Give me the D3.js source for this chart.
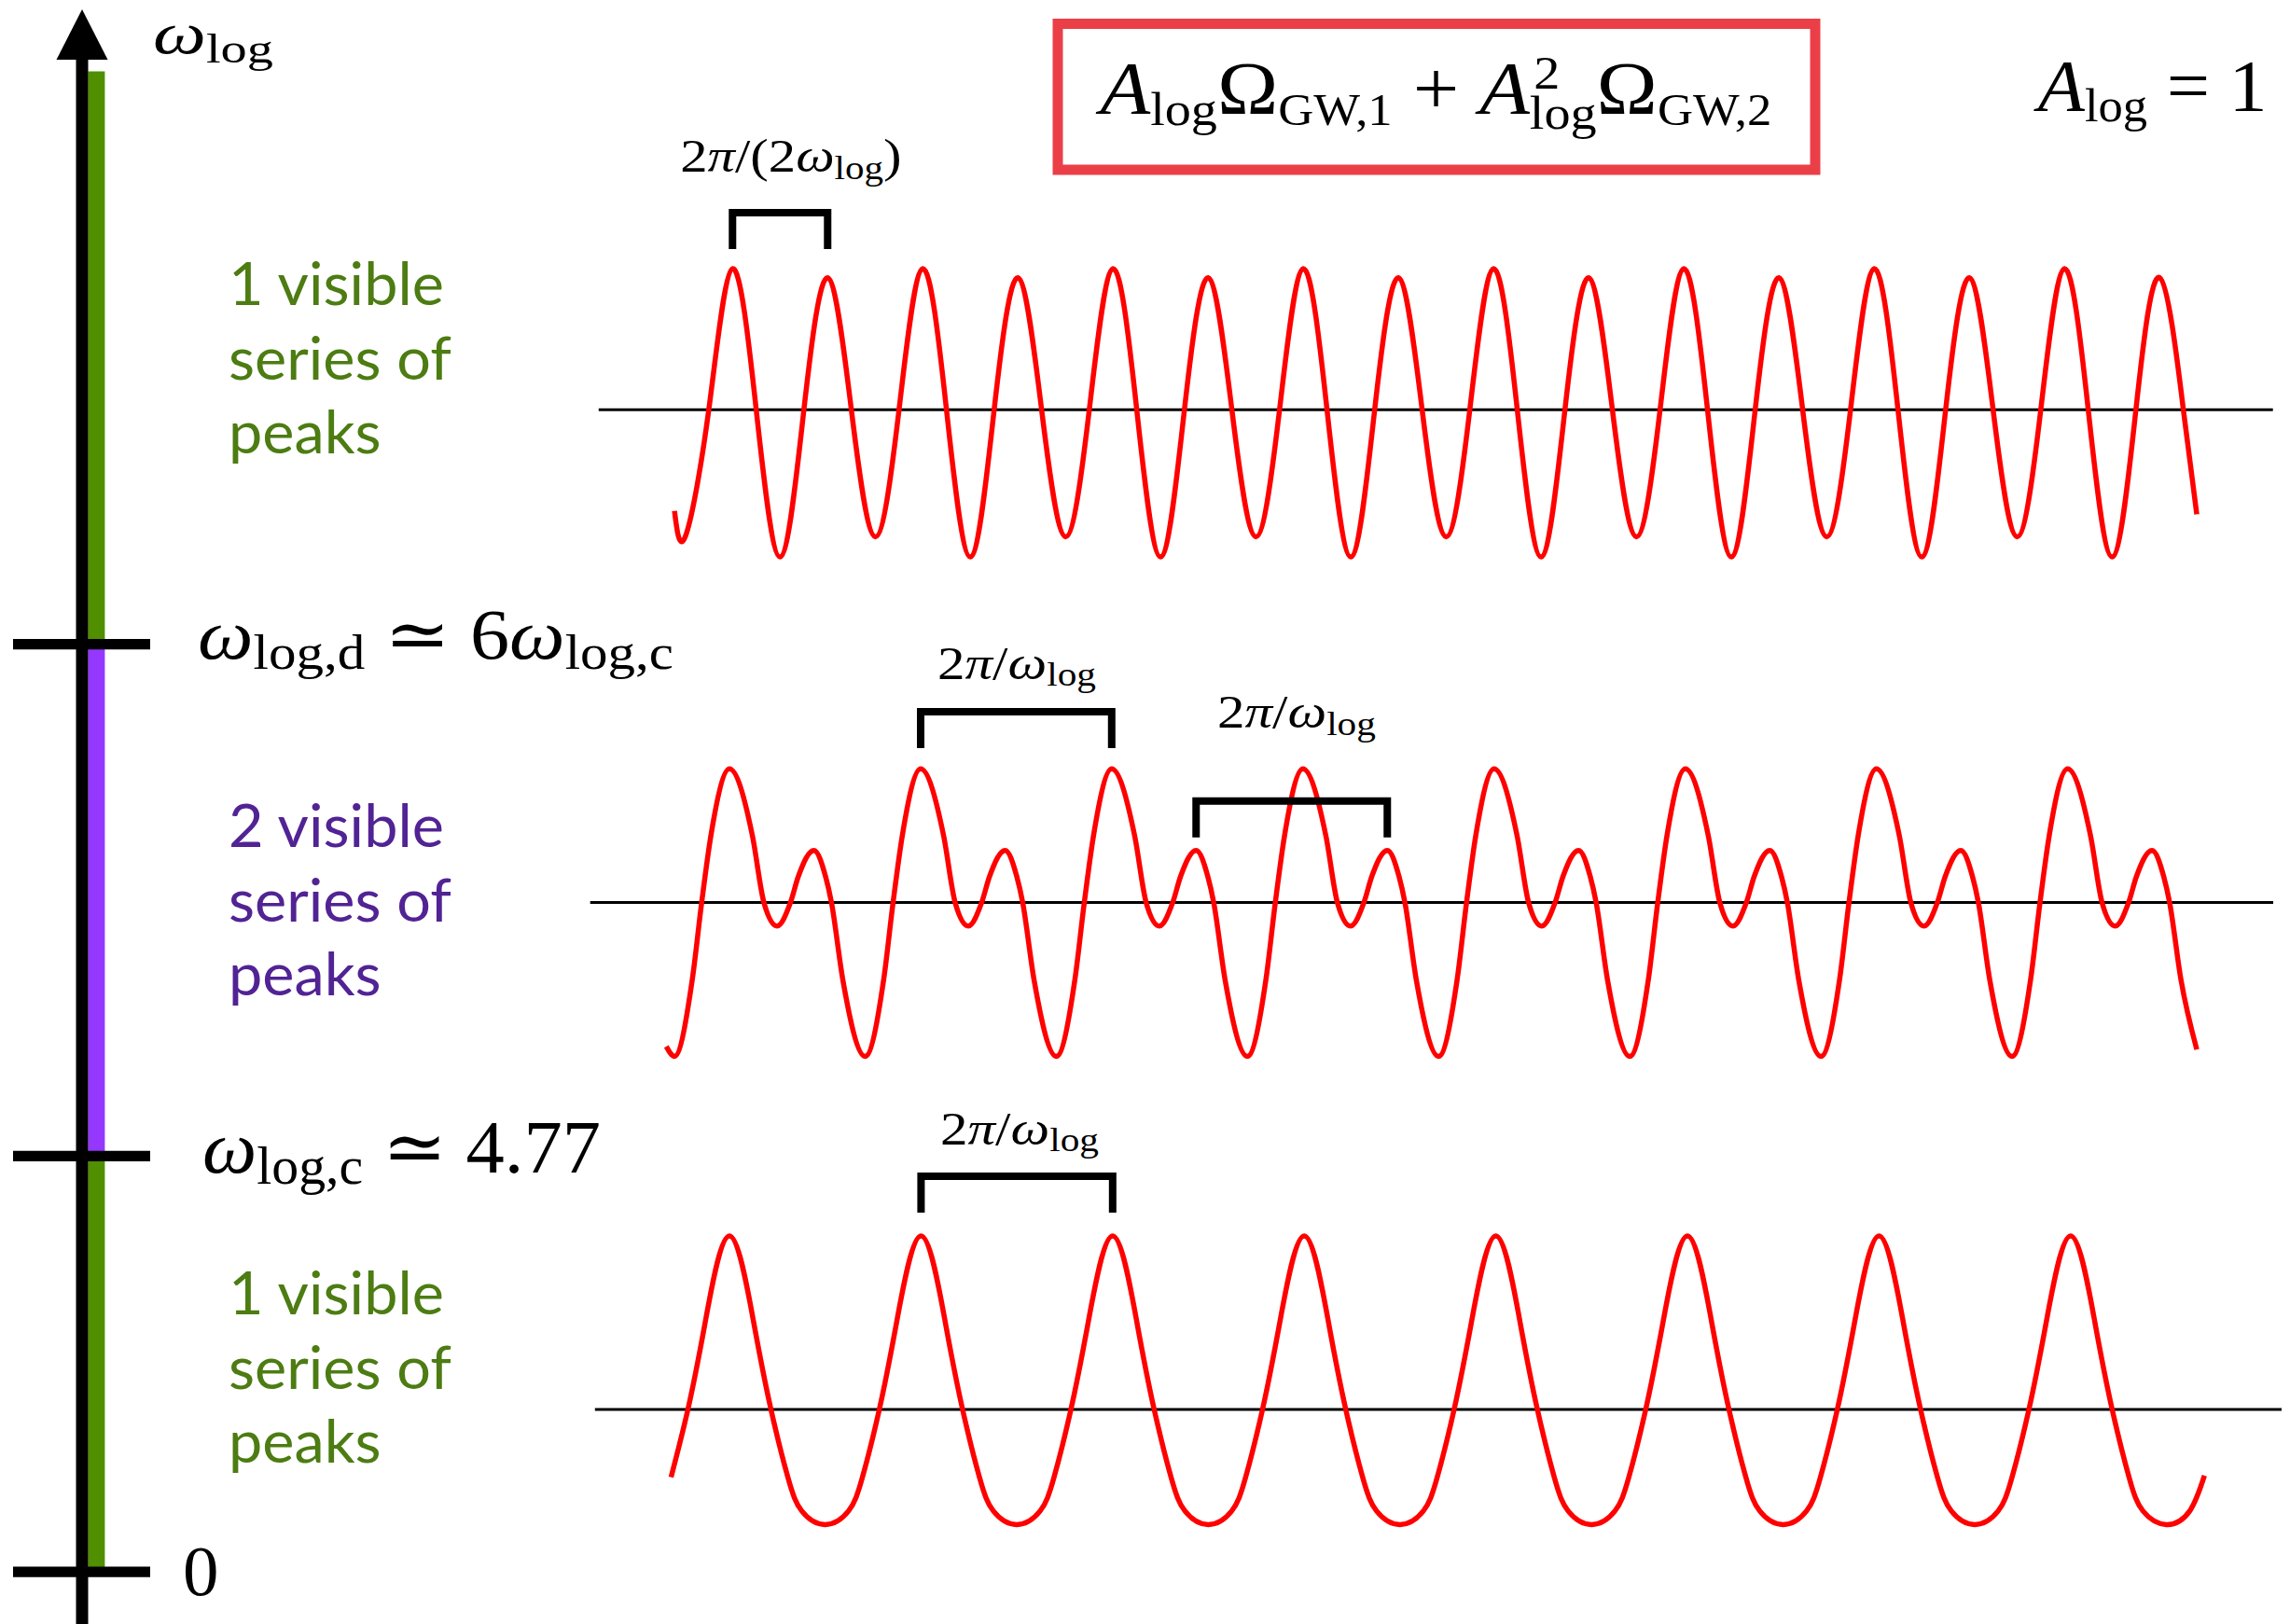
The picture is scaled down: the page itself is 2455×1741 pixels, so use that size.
<!DOCTYPE html>
<html>
<head>
<meta charset="utf-8">
<script src="https://cdn.jsdelivr.net/npm/d3@7"></script>
<style>
  body { margin: 0; background: #fff; }
  text { white-space: pre; }
</style>
</head>
<body>
<div id="svgcontainer"></div>
<script>
// ---- data ----
// x in units of one period 2pi/omega_log (first big peak = 0), y in amplitude units
var topWave = [
  [-0.287,-0.657],[-0.231,-0.825],
  [-0.108,0],[0.016,0.917],[0.140,0],[0.265,-0.956],
  [0.389,0],[0.513,0.858],[0.637,0],[0.762,-0.825],
  [0.886,0],[1.010,0.917],[1.134,0],[1.259,-0.956],
  [1.383,0],[1.507,0.858],[1.631,0],[1.756,-0.825],
  [1.880,0],[2.004,0.917],[2.128,0],[2.253,-0.956],
  [2.377,0],[2.501,0.858],[2.625,0],[2.750,-0.825],
  [2.874,0],[2.998,0.917],[3.122,0],[3.247,-0.956],
  [3.371,0],[3.495,0.858],[3.619,0],[3.744,-0.825],
  [3.868,0],[3.992,0.917],[4.116,0],[4.241,-0.956],
  [4.365,0],[4.489,0.858],[4.613,0],[4.738,-0.825],
  [4.862,0],[4.986,0.917],[5.110,0],[5.235,-0.956],
  [5.359,0],[5.483,0.858],[5.607,0],[5.732,-0.825],
  [5.857,0],[5.981,0.917],[6.105,0],[6.230,-0.956],
  [6.354,0],[6.478,0.858],[6.602,0],[6.727,-0.825],
  [6.851,0],[6.975,0.917],[7.099,0],[7.224,-0.956],
  [7.348,0],[7.472,0.858],[7.596,0],[7.666,-0.679]
];

var midWave = [
  [-0.330,-0.936],[-0.287,-1.0],[-0.194,-0.5],[-0.145,0],[-0.097,0.433],
  [0,0.867],[0.120,0.433],[0.180,0],[0.249,-0.153],[0.319,0],[0.360,0.169],[0.441,0.338],[0.502,0.169],[0.533,0],[0.592,-0.5],[0.709,-1.0],[0.806,-0.5],[0.855,0],[0.903,0.433],
  [0.999,0.867],[1.119,0.433],[1.179,0],[1.248,-0.153],[1.318,0],[1.359,0.169],[1.440,0.338],[1.501,0.169],[1.532,0],[1.591,-0.5],[1.708,-1.0],[1.805,-0.5],[1.854,0],[1.902,0.433],
  [1.997,0.867],[2.117,0.433],[2.177,0],[2.246,-0.153],[2.316,0],[2.357,0.169],[2.438,0.338],[2.499,0.169],[2.530,0],[2.589,-0.5],[2.706,-1.0],[2.803,-0.5],[2.852,0],[2.900,0.433],
  [2.996,0.867],[3.116,0.433],[3.176,0],[3.245,-0.153],[3.315,0],[3.356,0.169],[3.437,0.338],[3.498,0.169],[3.529,0],[3.588,-0.5],[3.705,-1.0],[3.802,-0.5],[3.851,0],[3.899,0.433],
  [3.995,0.867],[4.115,0.433],[4.175,0],[4.244,-0.153],[4.314,0],[4.355,0.169],[4.436,0.338],[4.497,0.169],[4.528,0],[4.587,-0.5],[4.704,-1.0],[4.801,-0.5],[4.850,0],[4.898,0.433],
  [4.994,0.867],[5.114,0.433],[5.174,0],[5.243,-0.153],[5.313,0],[5.354,0.169],[5.435,0.338],[5.496,0.169],[5.527,0],[5.586,-0.5],[5.703,-1.0],[5.800,-0.5],[5.849,0],[5.897,0.433],
  [5.992,0.867],[6.112,0.433],[6.172,0],[6.241,-0.153],[6.311,0],[6.352,0.169],[6.433,0.338],[6.494,0.169],[6.525,0],[6.584,-0.5],[6.701,-1.0],[6.798,-0.5],[6.847,0],[6.895,0.433],
  [6.991,0.867],[7.111,0.433],[7.171,0],[7.240,-0.153],[7.310,0],[7.351,0.169],[7.432,0.338],[7.493,0.169],[7.524,0],[7.583,-0.5],[7.666,-0.956]
];

var lowWave = [
  [-0.305,-0.44],[-0.217,0],[-0.127,0.564],
  [0,1.127],[0.127,0.564],[0.217,0],[0.305,-0.44],[0.378,-0.66],[0.5,-0.748],[0.622,-0.66],[0.695,-0.44],[0.783,0],[0.873,0.564],
  [1.001,1.127],[1.128,0.564],[1.218,0],[1.306,-0.44],[1.379,-0.66],[1.501,-0.748],[1.623,-0.66],[1.696,-0.44],[1.784,0],[1.874,0.564],
  [2.002,1.127],[2.129,0.564],[2.219,0],[2.307,-0.44],[2.380,-0.66],[2.502,-0.748],[2.624,-0.66],[2.697,-0.44],[2.785,0],[2.875,0.564],
  [3.003,1.127],[3.130,0.564],[3.220,0],[3.308,-0.44],[3.381,-0.66],[3.503,-0.748],[3.625,-0.66],[3.698,-0.44],[3.786,0],[3.876,0.564],
  [4.004,1.127],[4.131,0.564],[4.221,0],[4.309,-0.44],[4.382,-0.66],[4.504,-0.748],[4.626,-0.66],[4.699,-0.44],[4.787,0],[4.877,0.564],
  [5.005,1.127],[5.132,0.564],[5.222,0],[5.310,-0.44],[5.383,-0.66],[5.505,-0.748],[5.627,-0.66],[5.700,-0.44],[5.788,0],[5.878,0.564],
  [6.006,1.127],[6.133,0.564],[6.223,0],[6.311,-0.44],[6.384,-0.66],[6.506,-0.748],[6.628,-0.66],[6.701,-0.44],[6.789,0],[6.879,0.564],
  [7.007,1.127],[7.134,0.564],[7.224,0],[7.312,-0.44],[7.385,-0.66],[7.507,-0.748],[7.629,-0.66],[7.706,-0.43]
];

// omega_log axis: boundaries of the regimes
var regimeEdges = [0, 4.77, 28.62];
var regimeNames = [
  ["1 visible", "series of", "peaks"],
  ["2 visible", "series of", "peaks"],
  ["1 visible", "series of", "peaks"]
];

// brackets: which panel, from peak to peak (x units)
var brackets = [
  { panel: 0, x0: 0.016, x1: 0.513 },
  { panel: 1, x0: 0.999, x1: 1.997 },
  { panel: 1, x0: 2.438, x1: 3.437 },
  { panel: 2, x0: 1.001, x1: 2.002 }
];

// ---- layout ----
var width = 2455, height = 1741;
var green = "#4f8f00", purple = "#9437ff";
var greenText = "#4c7c12", purpleText = "#512394";
var red = "#ff0000", boxRed = "#eb3f48";

var panels = [
  { wave: topWave, axisY: 439.3, x0: 641.8, x1: 2436.7, curve: d3.curveNatural },
  { wave: midWave, axisY: 967.4, x0: 632.7, x1: 2437, curve: d3.curveMonotoneX },
  { wave: lowWave, axisY: 1511, x0: 637.8, x1: 2446, curve: d3.curveNatural }
];
var ampPx = 165;

var svg = d3.select("#svgcontainer")
    .append("svg")
    .attr("width", width)
    .attr("height", height);

svg.append("rect").attr("width", width).attr("height", height).attr("fill", "#fff");

var x = d3.scaleLinear().domain([0, 7]).range([782, 2218.4]);

// math text: parts = {t, it, sub (shift in em), fs (size factor), sup}
function mathText(parent, px, py, size, parts, fitWidth) {
  var g = parent.append("g");
  var t = g.append("text")
      .attr("x", px).attr("y", py)
      .style("font-family", "'Liberation Serif', 'DejaVu Serif', serif")
      .style("font-size", size + "px")
      .attr("fill", "#000");
  var shift = 0, n = 0, marks = [];
  parts.forEach(function(p) {
    var off = p.sub ? p.sub * size : 0;
    var fs = p.sub ? (p.fs || 0.7) * size : size;
    var s = t.append("tspan").text(p.t)
        .attr("dy", off - shift)
        .style("font-size", fs + "px");
    shift = off;
    if (p.it) s.style("font-style", "italic");
    if (p.sup) marks.push({ i: n, t: p.sup, fs: fs });
    n += p.t.length;
  });
  marks.forEach(function(m) {
    var pos = t.node().getStartPositionOfChar(m.i);
    g.append("text")
      .attr("x", pos.x + 4).attr("y", py - 0.33 * size)
      .style("font-family", "'Liberation Serif', serif")
      .style("font-size", m.fs + "px")
      .text(m.t);
  });
  if (fitWidth) {
    var w = t.node().getComputedTextLength();
    var k = fitWidth / w;
    g.attr("transform", "translate(" + px + ",0) scale(" + k + ",1) translate(" + (-px) + ",0)");
  }
  return g;
}

// ---- left omega axis ----
var wy = d3.scaleLinear().domain(regimeEdges).range([1685.2, 1239.3, 690.6]);
var axisTopY = 76.5;
var bands = [
  { lo: wy(regimeEdges[0]), hi: wy(regimeEdges[1]), c: green },
  { lo: wy(regimeEdges[1]), hi: wy(regimeEdges[2]), c: purple },
  { lo: wy(regimeEdges[2]), hi: axisTopY, c: green }
];
svg.selectAll("rect.band").data(bands).enter().append("rect")
  .attr("class", "band")
  .attr("x", 94.4).attr("width", 18)
  .attr("y", function(d) { return d.hi; })
  .attr("height", function(d) { return d.lo - d.hi; })
  .attr("fill", function(d) { return d.c; });

svg.append("line")
  .attr("x1", 88).attr("x2", 88).attr("y1", 55).attr("y2", height)
  .style("stroke", "#000").style("stroke-width", 13);
svg.append("path")
  .attr("d", "M88,10 L60.5,64 L115.5,64 Z")
  .attr("fill", "#000");

svg.selectAll("line.tick").data(regimeEdges).enter().append("line")
  .attr("class", "tick")
  .attr("x1", 14).attr("x2", 161)
  .attr("y1", function(d) { return wy(d); })
  .attr("y2", function(d) { return wy(d); })
  .style("stroke", "#000").style("stroke-width", 11.2);

// regime text blocks
var blockY = [327.2, 908, 1409.3];
var blockCol = [greenText, purpleText, greenText];
regimeNames.forEach(function(lines, i) {
  var g = svg.append("g");
  var t = g.append("text")
      .style("font-family", "Lato, 'Open Sans', sans-serif")
      .style("font-size", "63px")
      .attr("fill", blockCol[i]);
  lines.forEach(function(s, j) {
    t.append("tspan").attr("x", 245).attr("y", blockY[i] + j * 79.6).text(s);
  });
  var w = t.selectAll("tspan").nodes()[1].getComputedTextLength();
  var k = 239 / w;
  g.attr("transform", "translate(245,0) scale(" + k + ",1) translate(-245,0)");
});

// axis labels
mathText(svg, 164, 57.4, 64, [{ t: "ω", it: 1 }, { t: "log", sub: 0.15 }], 129);
mathText(svg, 212, 706, 76, [
  { t: "ω", it: 1 }, { t: "log,d", sub: 0.15 }, { t: " ≃ 6" },
  { t: "ω", it: 1 }, { t: "log,c", sub: 0.15 }
], 510);
mathText(svg, 217, 1257, 80, [
  { t: "ω", it: 1 }, { t: "log,c", sub: 0.15 }, { t: " ≃ 4.77" }
], 427);
mathText(svg, 196, 1710, 77, [{ t: "0" }]);

// ---- formula box ----
svg.append("rect")
  .attr("x", 1134).attr("y", 25.5).attr("width", 812).attr("height", 156.5)
  .attr("fill", "none").style("stroke", boxRed).style("stroke-width", 11);
mathText(svg, 1179.5, 121.7, 80, [
  { t: "A", it: 1 }, { t: "log", sub: 0.15, fs: 0.64 }, { t: "Ω" }, { t: "GW,1", sub: 0.15, fs: 0.6 },
  { t: " + " },
  { t: "A", it: 1 }, { t: "log", sub: 0.2, fs: 0.64, sup: "2" }, { t: "Ω" }, { t: "GW,2", sub: 0.15, fs: 0.6 }
], 720);
mathText(svg, 2184.7, 118, 78, [{ t: "A", it: 1 }, { t: "log", sub: 0.15, fs: 0.64 }, { t: " = 1" }], 246);

// ---- wave panels ----
panels.forEach(function(p) {
  var y = d3.scaleLinear().domain([-1, 1]).range([p.axisY + ampPx, p.axisY - ampPx]);
  var line = d3.line()
      .curve(p.curve)
      .x(function(d) { return x(d[0]); })
      .y(function(d) { return y(d[1]); });
  svg.append("line")
    .attr("x1", p.x0).attr("x2", p.x1).attr("y1", y(0)).attr("y2", y(0))
    .style("stroke", "#000").style("stroke-width", 3);
  svg.append("path")
    .attr("d", line(p.wave))
    .attr("fill", "none")
    .style("stroke", red).style("stroke-width", 5.5)
    .style("stroke-linejoin", "round");
});

// brackets and their labels
var bracketBar = [228, 763, 858.7, 1261];
var legLen = 39;
brackets.forEach(function(b, i) {
  var yb = bracketBar[i];
  svg.append("path")
    .attr("d", "M" + x(b.x0) + "," + (yb + legLen) + " V" + yb + " H" + x(b.x1) + " V" + (yb + legLen))
    .attr("fill", "none")
    .style("stroke", "#000").style("stroke-width", 8)
    .style("stroke-linejoin", "miter");
});
mathText(svg, 729.3, 184.3, 50, [
  { t: "2" }, { t: "π", it: 1 }, { t: "/(2" }, { t: "ω", it: 1 }, { t: "log", sub: 0.15 }, { t: ")" }
], 237.4);
var shortLabel = [{ t: "2" }, { t: "π", it: 1 }, { t: "/" }, { t: "ω", it: 1 }, { t: "log", sub: 0.15 }];
mathText(svg, 1005, 728, 50, shortLabel, 170);
mathText(svg, 1305, 780.5, 50, shortLabel, 170);
mathText(svg, 1008, 1226.7, 50, shortLabel, 170);
</script>
</body>
</html>
